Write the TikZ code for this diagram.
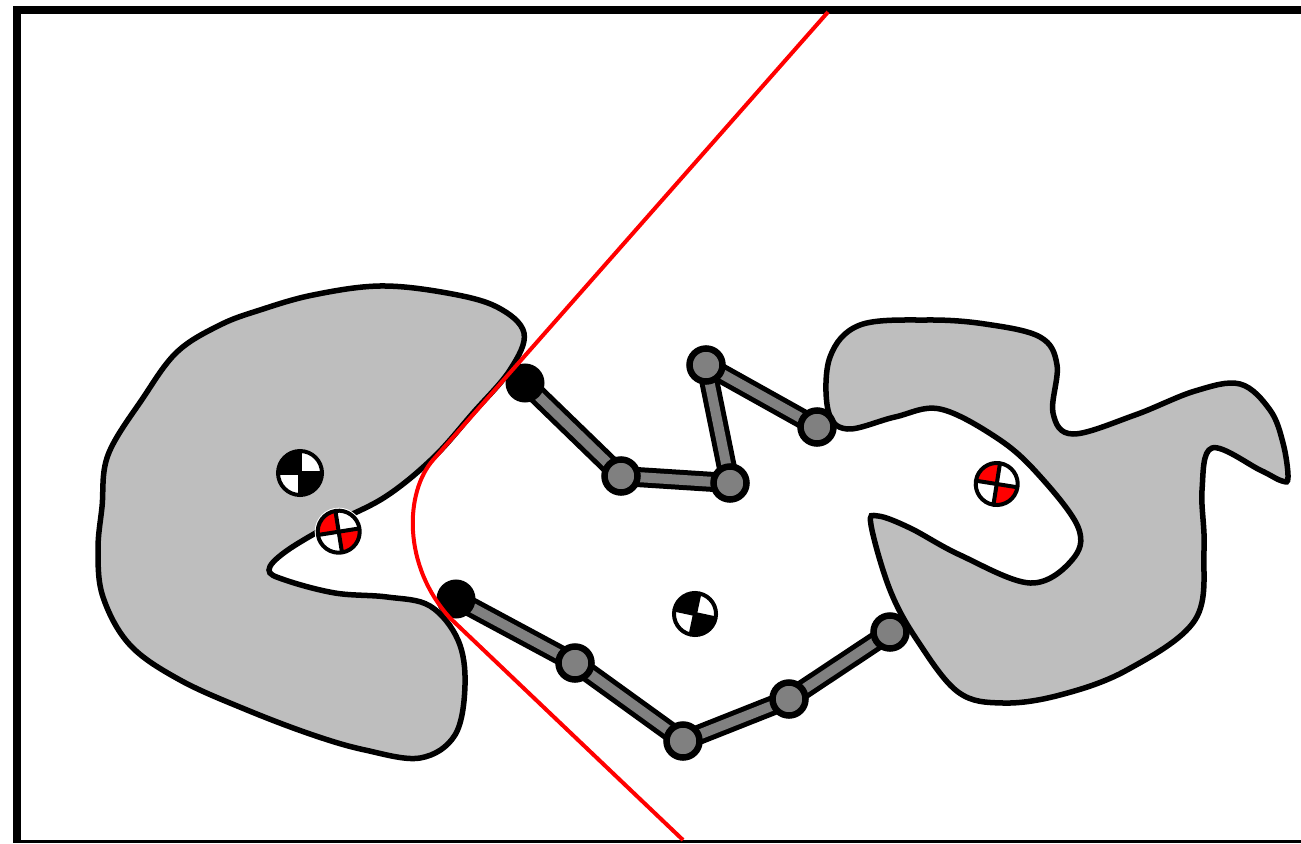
\documentclass[tikz,border=0pt]{standalone}
\usepackage{xcolor}
\usetikzlibrary{backgrounds}
\definecolor{blobgray}{RGB}{190,190,190}
\definecolor{linkgray}{RGB}{128,128,128}
\newcommand{\commark}[5]{%
  \node[comring] (#1) at (#2) {};
  \begin{scope}[shift={(#1.center)}, rotate=#3]
    \fill[#4] (0pt,0pt) -- (0pt,#5) arc[start angle=90, end angle=180, radius=#5] -- cycle;
    \fill[#4] (0pt,0pt) -- (0pt,-#5) arc[start angle=270, end angle=360, radius=#5] -- cycle;
    \draw[comline] (-#5,0pt) -- (#5,0pt);
    \draw[comline] (0pt,-#5) -- (0pt,#5);
    \draw[comline] (0pt,0pt) circle[radius=#5];
  \end{scope}
}

\begin{document}
\begin{tikzpicture}[
  x=.01cm, y=-.01cm,
  blob/.style={draw, fill=blobgray, line width=.055cm},
  joint/.style={circle, draw, fill=linkgray, line width=.065cm,
                minimum size=.33cm, inner sep=0pt},
  basejoint/.style={circle, fill=black, minimum size=.39cm, inner sep=0pt},
  link/.style={draw=black, double=linkgray, double distance=.10cm, line width=.05cm},
  comring/.style={circle, fill=white, minimum size=.48cm, inner sep=0pt},
  comline/.style={line width=.04cm},
  tangent/.style={draw=red, line width=.04cm}
]
  \useasboundingbox (0,0) rectangle (1301,843);

  % Upper arm
  \node[basejoint] (baseU) at (525,383) {};
  \node[joint] (u1) at (621,476) {};
  \node[joint] (u2) at (730,483) {};
  \node[joint] (u3) at (706,365) {};
  \node[joint] (u4) at (817,427) {};

  % Lower arm
  \node[basejoint] (baseL) at (456,599) {};
  \node[joint] (l1) at (575,663) {};
  \node[joint] (l2) at (683,741) {};
  \node[joint] (l3) at (789,699) {};
  \node[joint] (l4) at (890,632) {};

  \begin{scope}[on background layer]
    % Objects
    \draw[blob] plot[smooth cycle, tension=.6] coordinates {
      (380,286) (447,293) (497,307) (524,333) (510,370) (473,413) (433,458)
      (385,497) (330,525) (285,552) (269,570) (285,580) (335,593) (387,597)
      (430,606) (458,640) (465,685) (455,735) (420,758) (365,750) (313,735)
      (247,710) (180,680) (130,645) (103,597) (98,550) (102,507) (108,455)
      (143,398) (177,352) (220,325) (260,310) (313,295)};
    \draw[blob] plot[smooth cycle, tension=.6] coordinates {
      (927,320) (985,324) (1040,337) (1057,365) (1053,413) (1073,434) (1135,415)
      (1195,391) (1240,384) (1270,410) (1283,443) (1288,477) (1282,481) (1260,470)
      (1212,448) (1202,490) (1204,550) (1195,620) (1127,670) (1060,695) (1003,703)
      (958,692) (917,640) (890,590) (871,525) (878,516) (910,528) (960,555)
      (1030,583) (1072,560) (1078,527) (1037,473) (997,438) (940,409) (895,417)
      (847,429) (828,410) (830,357) (860,325)};

    % Links
    \foreach \a/\b in {baseU/u1, u1/u2, u2/u3, u3/u4, baseL/l1, l1/l2, l2/l3, l3/l4}
      \draw[link] (\a.center) -- (\b.center);
  \end{scope}

  % Frame
  \draw[line width=.08cm] (1301,10) -- (17,10) -- (17,843);
  \draw[line width=.03cm] (17,841.5) -- (1301,841.5);

  % Contact tangents
  \coordinate (tipU) at (828,12);
  \coordinate (tipL) at (683,840);
  \draw[tangent] (tipU) -- (433,460) .. controls (405,492) and (402,565) .. (450,618) -- (tipL);

  % Centres of mass
  \commark{comA}{300,473}{0}{black}{.22cm}
  \commark{comB}{338.7,531.7}{9}{red}{.21cm}
  \commark{comC}{996.7,484}{-9}{red}{.21cm}
  \commark{comD}{695,614}{-12}{black}{.21cm}
\end{tikzpicture}
\end{document}
